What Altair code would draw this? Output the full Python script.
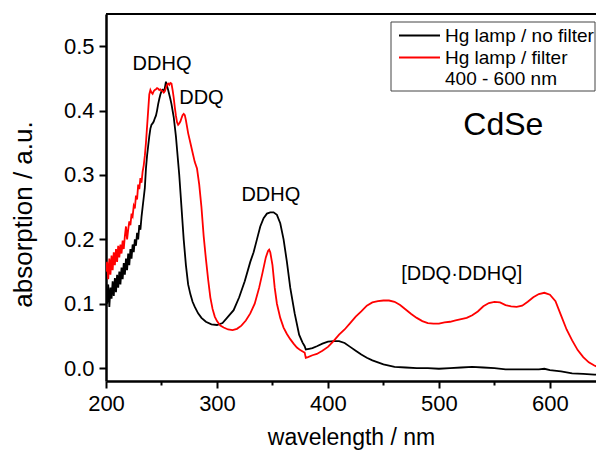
import altair as alt
import pandas as pd

FONT = "Liberation Sans"

# ---- data: Hg lamp / no filter (black) ----
wl_nofilter = [200, 201, 202, 203, 204, 205, 206, 207, 208, 209, 210, 211, 212, 213, 214, 215, 216, 217, 218, 219,
               220, 221, 222, 223, 224, 225, 226, 227, 228, 229, 230, 231, 232, 233, 234, 235, 236, 237, 238, 239,
               240, 241, 242, 243, 244, 245, 246, 247, 248, 249, 250, 251, 252, 253, 254, 255, 256, 257, 258, 259,
               260, 261, 262, 263, 264, 265, 266, 267, 268, 269, 270, 272, 274, 276, 278, 280, 283, 286, 290, 295,
               300, 305, 310, 315, 320, 325, 330, 333, 336, 339, 342, 345, 348, 351, 354, 357, 360, 363, 366, 370,
               374, 377, 379, 380, 383, 386, 390, 395, 400, 405, 410, 415, 420, 425, 430, 435, 440, 445, 450, 455,
               460, 470, 480, 490, 500, 510, 520, 530, 540, 550, 560, 570, 580, 590, 595, 600, 610, 620, 630, 640, 647]
abs_nofilter = [0.120, 0.100, 0.130, 0.095, 0.125, 0.108, 0.135, 0.112, 0.140, 0.118, 0.145, 0.125, 0.150, 0.130,
                0.156, 0.138, 0.163, 0.145, 0.170, 0.152, 0.178, 0.160, 0.185, 0.170, 0.192, 0.180, 0.200, 0.190,
                0.210, 0.200, 0.222, 0.215, 0.235, 0.250, 0.265, 0.280, 0.310, 0.330, 0.345, 0.360, 0.372, 0.378,
                0.380, 0.383, 0.388, 0.392, 0.400, 0.410, 0.418, 0.425, 0.430, 0.432, 0.430, 0.435, 0.445, 0.438,
                0.432, 0.425, 0.418, 0.410, 0.400, 0.390, 0.375, 0.360, 0.340, 0.320, 0.300, 0.275, 0.250, 0.225,
                0.200, 0.160, 0.130, 0.115, 0.103, 0.095, 0.085, 0.078, 0.072, 0.068, 0.067, 0.070, 0.080, 0.090,
                0.110, 0.135, 0.165, 0.180, 0.200, 0.220, 0.233, 0.240, 0.242, 0.242, 0.238, 0.225, 0.200, 0.165,
                0.125, 0.085, 0.052, 0.040, 0.034, 0.029, 0.030, 0.031, 0.034, 0.038, 0.041, 0.042, 0.042, 0.039,
                0.033, 0.027, 0.021, 0.016, 0.012, 0.009, 0.006, 0.004, 0.002, 0.001, 0.000, 0.000, -0.001, 0.000,
                0.001, 0.002, 0.001, 0.000, -0.002, -0.002, -0.002, -0.002, -0.001, -0.003, -0.005, -0.008, -0.009,
                -0.010, -0.010]

# ---- data: Hg lamp / filter 400 - 600 nm (red) ----
wl_filter = [200, 201, 202, 203, 204, 205, 206, 207, 208, 209, 210, 211, 212, 213, 214, 215, 216, 217, 218, 219,
             220, 221, 222, 223, 224, 225, 226, 227, 228, 229, 230, 231, 232, 233, 234, 235, 236, 237, 238, 239,
             240, 241, 242, 243, 244, 245, 246, 247, 248, 249, 250, 251, 252, 253, 254, 255, 256, 257, 258, 259,
             260, 261, 262, 263, 264, 265, 266, 267, 268, 269, 270, 271, 272, 273, 274, 276, 278, 280, 282, 284,
             286, 288, 290, 292, 294, 296, 298, 300, 303, 306, 310, 314, 318, 322, 326, 330, 334, 338, 341, 344,
             346, 347, 348, 350, 352, 354, 357, 360, 363, 366, 369, 372, 375, 378, 379, 380, 382, 386, 390, 395,
             400, 405, 410, 415, 420, 425, 430, 435, 440, 445, 450, 455, 460, 465, 470, 475, 480, 485, 490, 495,
             500, 505, 510, 515, 520, 525, 530, 535, 540, 545, 550, 555, 560, 565, 570, 575, 580, 585, 590, 595,
             600, 605, 610, 615, 620, 625, 630, 635, 640, 645, 647]
abs_filter = [0.150, 0.165, 0.138, 0.170, 0.145, 0.175, 0.152, 0.180, 0.160, 0.185, 0.165, 0.190, 0.172, 0.192,
              0.178, 0.198, 0.185, 0.205, 0.220, 0.200, 0.215, 0.228, 0.222, 0.240, 0.236, 0.252, 0.248, 0.268,
              0.262, 0.285, 0.278, 0.295, 0.288, 0.305, 0.315, 0.330, 0.350, 0.375, 0.400, 0.425, 0.432, 0.428,
              0.426, 0.430, 0.432, 0.433, 0.435, 0.434, 0.432, 0.433, 0.431, 0.430, 0.428, 0.430, 0.435, 0.440,
              0.442, 0.440, 0.443, 0.442, 0.432, 0.420, 0.405, 0.392, 0.382, 0.378, 0.380, 0.383, 0.388, 0.393,
              0.395, 0.393, 0.385, 0.375, 0.365, 0.350, 0.335, 0.320, 0.310, 0.285, 0.250, 0.205, 0.170, 0.138,
              0.110, 0.092, 0.080, 0.073, 0.066, 0.063, 0.060, 0.059, 0.061, 0.066, 0.074, 0.085, 0.100, 0.125,
              0.148, 0.172, 0.182, 0.184, 0.180, 0.160, 0.125, 0.100, 0.078, 0.063, 0.053, 0.045, 0.038, 0.032,
              0.028, 0.025, 0.024, 0.016, 0.017, 0.020, 0.022, 0.027, 0.033, 0.042, 0.052, 0.060, 0.070, 0.080,
              0.088, 0.097, 0.102, 0.104, 0.105, 0.105, 0.103, 0.098, 0.091, 0.084, 0.078, 0.073, 0.070, 0.069,
              0.069, 0.071, 0.072, 0.074, 0.076, 0.078, 0.082, 0.088, 0.096, 0.101, 0.103, 0.102, 0.098, 0.096,
              0.095, 0.097, 0.103, 0.110, 0.115, 0.117, 0.114, 0.104, 0.082, 0.060, 0.043, 0.028, 0.017, 0.009,
              0.004, 0.000, -0.002]

series_names = ["Hg lamp / no filter", "Hg lamp / filter 400 - 600 nm"]
series_colors = ["#000000", "#ff0000"]
legend_lines = ["Hg lamp / no filter", "Hg lamp / filter", "400 - 600 nm"]

ann_labels = ["DDHQ", "DDQ", "DDHQ", "[DDQ·DDHQ]"]
ann_wl = [250.5, 286.0, 348.5, 520.5]
ann_abs = [0.473, 0.420, 0.269, 0.146]

sample_label = ["CdSe"]
sample_wl = [558.0]
sample_abs = [0.377]

X_DOMAIN = [200, 641.5]
Y_DOMAIN = [-0.02, 0.55]

df_black = pd.DataFrame({"wl": wl_nofilter, "a": abs_nofilter, "series": series_names[0]})
df_red = pd.DataFrame({"wl": wl_filter, "a": abs_filter, "series": series_names[1]})
df_ann = pd.DataFrame({"wl": ann_wl, "a": ann_abs, "label": ann_labels})
df_sample = pd.DataFrame({"wl": sample_wl, "a": sample_abs, "label": sample_label})
one = pd.DataFrame({"k": [0]})

xscale = alt.Scale(domain=X_DOMAIN, nice=False, zero=False)
yscale = alt.Scale(domain=Y_DOMAIN, nice=False, zero=False)

x_axis = alt.Axis(
    orient="bottom",
    values=[200, 250, 300, 350, 400, 450, 500, 550, 600],
    labelExpr="datum.value % 100 === 0 ? format(datum.value, 'd') : ''",
    tickSize={"condition": {"test": "datum.value % 100 === 0", "value": 7}, "value": 4},
    tickWidth=2, tickColor="black",
    domainWidth=2.5, domainColor="black",
    labelFont=FONT, labelFontSize=22, labelColor="black", labelPadding=5,
    labelFlush=False, labelOverlap=False,
    title="wavelength / nm", titleFont=FONT, titleFontSize=23, titleFontWeight="normal",
    titleColor="black", titleBaseline="alphabetic", titleY=63,
    grid=False,
)
y_axis = alt.Axis(
    orient="left",
    values=[0.0, 0.05, 0.1, 0.15, 0.2, 0.25, 0.3, 0.35, 0.4, 0.45, 0.5],
    labelExpr="round(datum.value * 100) % 10 === 0 ? format(datum.value, '.1f') : ''",
    tickSize={"condition": {"test": "round(datum.value * 100) % 10 === 0", "value": 7}, "value": 4},
    tickWidth=2, tickColor="black",
    domainWidth=2.5, domainColor="black",
    labelFont=FONT, labelFontSize=22, labelColor="black", labelPadding=5,
    labelFlush=False, labelOverlap=False,
    title="absorption / a.u.", titleFont=FONT, titleFontSize=26, titleFontWeight="normal",
    titleColor="black", titleX=-70, titleY=200,
    grid=False,
)

black = alt.Chart(df_black).mark_line(strokeWidth=1.8, clip=True).encode(
    x=alt.X("wl:Q", scale=xscale, axis=x_axis),
    y=alt.Y("a:Q", scale=yscale, axis=y_axis),
    color=alt.Color("series:N", scale=alt.Scale(domain=series_names, range=series_colors), legend=None),
)
red = alt.Chart(df_red).mark_line(strokeWidth=1.8, clip=True).encode(
    x=alt.X("wl:Q"),
    y=alt.Y("a:Q"),
    color=alt.Color("series:N", legend=None),
)

top_frame = alt.Chart(one).mark_rule(color="black", strokeWidth=2).encode(y=alt.datum(Y_DOMAIN[1]))

ann = alt.Chart(df_ann).mark_text(font=FONT, fontSize=20, color="black").encode(
    x=alt.X("wl:Q"), y=alt.Y("a:Q"), text="label:N"
)
sample = alt.Chart(df_sample).mark_text(font=FONT, fontSize=32, color="black").encode(
    x=alt.X("wl:Q"), y=alt.Y("a:Q"), text="label:N"
)

# legend (drawn as decoration, top-right)
leg_box = alt.Chart(one).mark_rect(fill="white", stroke="#444444", strokeWidth=1).encode(
    x=alt.value(285), x2=alt.value(489), y=alt.value(8), y2=alt.value(77)
)
leg_line1 = alt.Chart(one).mark_rule(color=series_colors[0], strokeWidth=2).encode(
    x=alt.value(293), x2=alt.value(334), y=alt.value(21.5)
)
leg_line2 = alt.Chart(one).mark_rule(color=series_colors[1], strokeWidth=2).encode(
    x=alt.value(293), x2=alt.value(334), y=alt.value(43.5)
)
leg_texts = []
for t, yy in zip(legend_lines, [21.5, 43.5, 65]):
    leg_texts.append(
        alt.Chart(one).mark_text(font=FONT, fontSize=19, color="black", align="left", baseline="middle").encode(
            x=alt.value(339), y=alt.value(yy), text=alt.value(t)
        )
    )

chart = alt.layer(
    black, red, top_frame, ann, sample, leg_box, leg_line1, leg_line2, *leg_texts
).properties(
    width=490, height=367,
    padding={"left": 98, "top": 6, "right": 0, "bottom": 69},
    autosize=alt.AutoSizeParams(type="none"),
    background="white",
).configure_view(stroke=None)

chart.save("out.html", embed_options={"renderer": "svg", "actions": False})
